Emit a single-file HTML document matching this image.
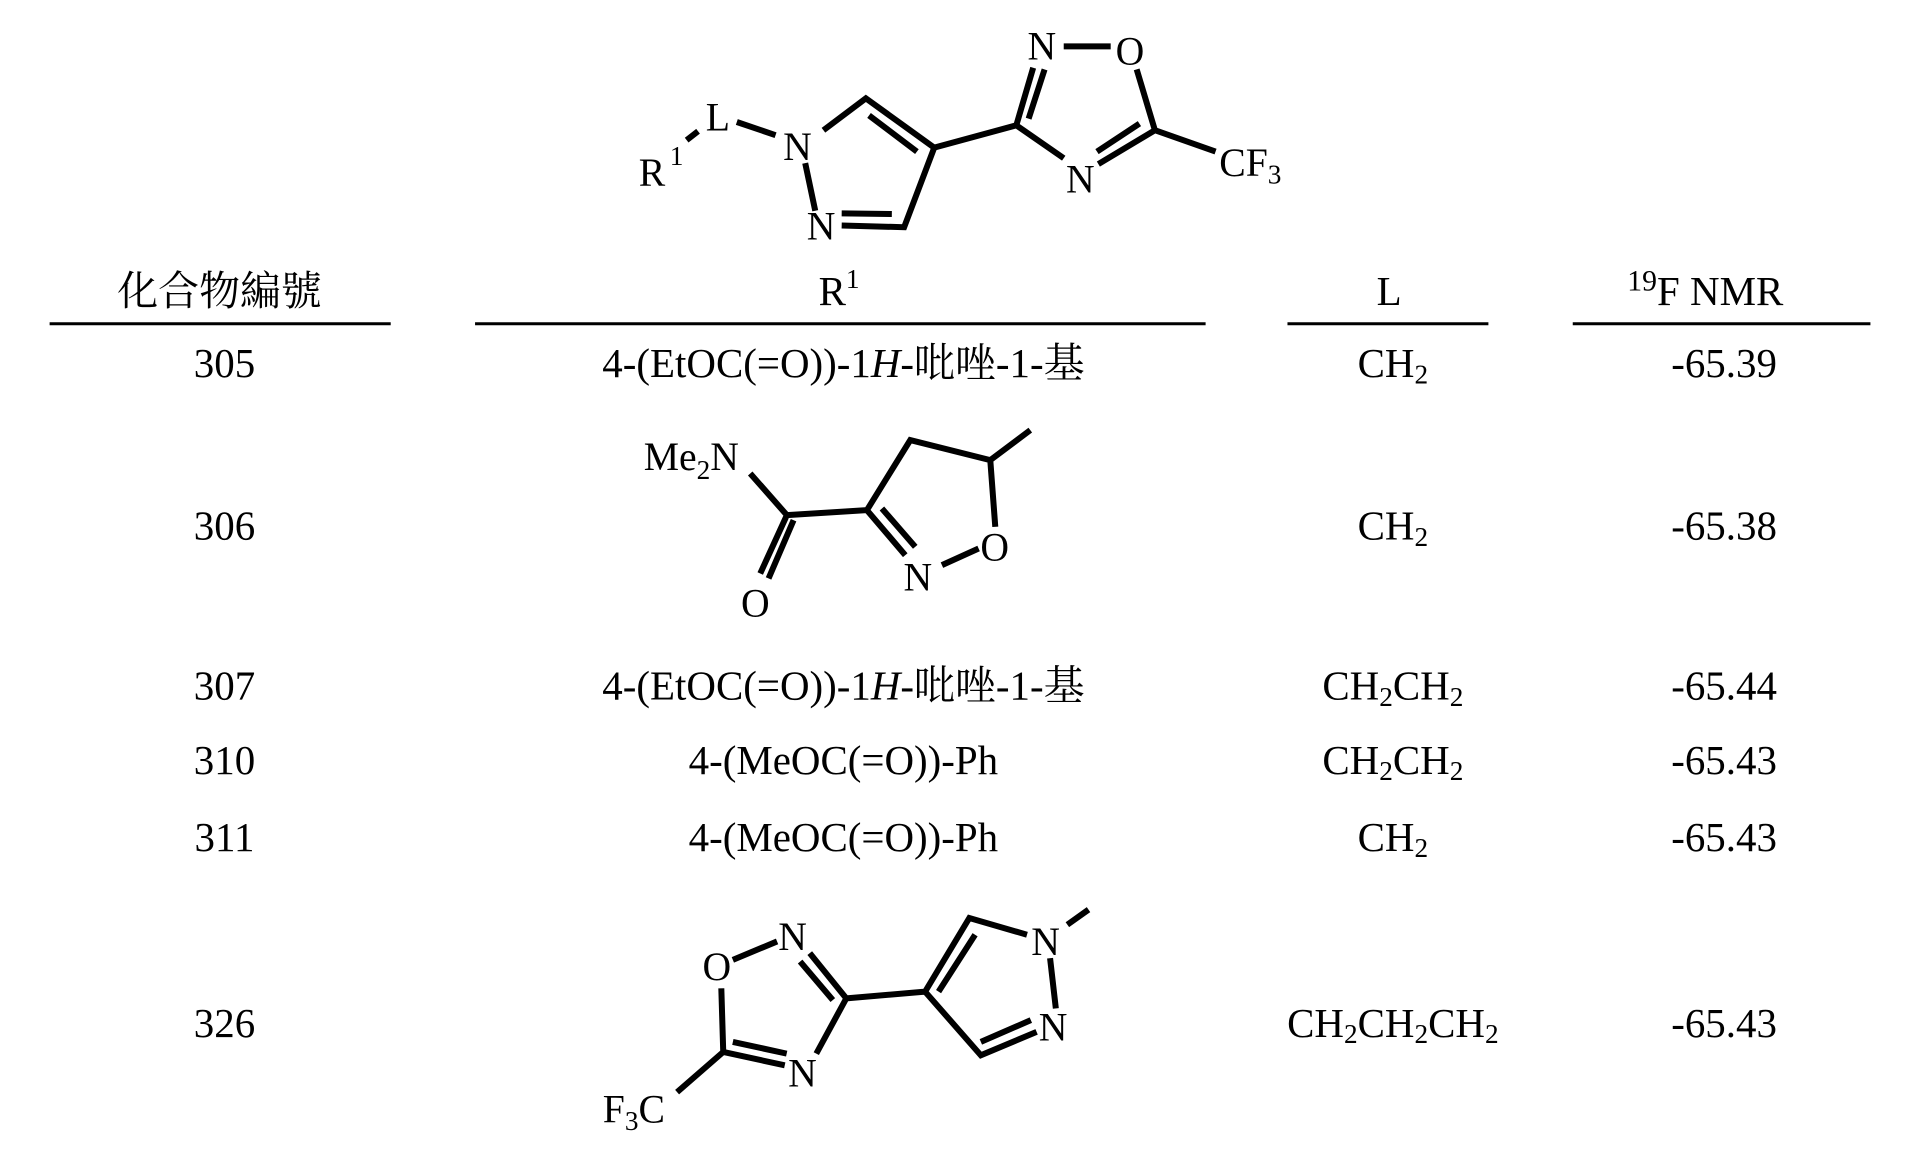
<!DOCTYPE html>
<html><head><meta charset="utf-8"><style>
html,body{margin:0;padding:0;background:#fff;}
svg{display:block;}
text{font-family:"Liberation Serif","Noto Serif CJK SC","Noto Sans CJK TC",serif;fill:#000;}
.t{font-size:33px;}
.a{font-size:32px;}
</style></head><body>
<svg width="1925" height="1161" viewBox="0 0 1552 936" xmlns="http://www.w3.org/2000/svg">
<g stroke="#000" fill="none">
<g transform="matrix(0.3676 0 0 0.265 485.6 5.6)">
<path vector-effect="non-scaling-stroke" stroke-width="6" d="M185 405L210 378M295 350L380 390M485 375L578 278L728 428M585 330L690 440M728 428L662 670L525 665M635 630L525 628M467 620L445 475M728 428L908 360L945 185M935 340L970 190M1012 120L1115 120M1172 190L1212 375L1088 478M1178 355L1085 440M908 360L1012 460M1212 375L1345 440"/>
</g>
<g transform="matrix(0.2688 0 0 0.2688 483.9 338.7)">
<path vector-effect="non-scaling-stroke" stroke-width="6" d="M450 160L560 285L480 460M580 300L505 475M560 285L800 270L930 60L1170 120L1290 30M1170 120L1185 320M1135 385L1025 435M800 270L915 405M845 265L945 380"/>
</g>
<g transform="matrix(0.31 0 0 0.27 449.8 718.5)">
<path vector-effect="non-scaling-stroke" stroke-width="6" d="M455 205L570 150M655 185L750 320L672 485M630 210L715 325M430 480L590 520M455 450L595 485M425 290L430 480L310 600M750 320L955 300L1070 80L1220 130M990 300L1085 130M1325 100L1380 55M1280 200L1295 350M1245 420L1100 490L955 300M1230 385L1100 450"/>
</g>
</g>
<g class="a">
<text x="515" y="150">R</text><text x="540" y="133" font-size="22">1</text>
<text x="569" y="105">L</text>
<text x="643" y="129" text-anchor="middle">N</text>
<text x="662" y="193" text-anchor="middle">N</text>
<text x="840" y="48" text-anchor="middle">N</text>
<text x="911" y="52" text-anchor="middle">O</text>
<text x="871" y="155" text-anchor="middle">N</text>
<text x="983" y="142">CF<tspan font-size="22" dy="6">3</tspan></text>
</g>
<g class="a">
<text x="519" y="379">Me<tspan font-size="22" dy="7">2</tspan><tspan dy="-7">N</tspan></text>
<text x="609" y="497" text-anchor="middle">O</text>
<text x="802" y="452" text-anchor="middle">O</text>
<text x="740" y="476" text-anchor="middle">N</text>
</g>
<g class="a">
<text x="639" y="766" text-anchor="middle">N</text>
<text x="578" y="790" text-anchor="middle">O</text>
<text x="647" y="876" text-anchor="middle">N</text>
<text x="486" y="905">F<tspan font-size="22" dy="6">3</tspan><tspan dy="-6">C</tspan></text>
<text x="843" y="770" text-anchor="middle">N</text>
<text x="849" y="839" text-anchor="middle">N</text>
</g>
<g class="t">
<text x="177" y="246" text-anchor="middle">化合物編號</text>
<text x="660" y="246">R<tspan font-size="22" dy="-14">1</tspan></text>
<text x="1120" y="246" text-anchor="middle">L</text>
<text x="1312" y="246"><tspan font-size="24" dy="-12">19</tspan><tspan dy="12">F NMR</tspan></text>
</g>
<g stroke="#000" stroke-width="2.5">
<line x1="40" y1="261" x2="315" y2="261"/>
<line x1="383" y1="261" x2="972" y2="261"/>
<line x1="1038" y1="261" x2="1200" y2="261"/>
<line x1="1268" y1="261" x2="1508" y2="261"/>
</g>
<g class="t" text-anchor="middle">
<text x="181" y="304">305</text>
<text x="680" y="304">4-(EtOC(=O))-1<tspan font-style="italic">H</tspan>-吡唑-1-基</text>
<text x="1123" y="304">CH<tspan font-size="22" dy="5">2</tspan></text>
<text x="1390" y="304">-65.39</text>

<text x="181" y="435">306</text>
<text x="1123" y="435">CH<tspan font-size="22" dy="5">2</tspan></text>
<text x="1390" y="435">-65.38</text>

<text x="181" y="564">307</text>
<text x="680" y="564">4-(EtOC(=O))-1<tspan font-style="italic">H</tspan>-吡唑-1-基</text>
<text x="1123" y="564">CH<tspan font-size="22" dy="5">2</tspan><tspan dy="-5">CH</tspan><tspan font-size="22" dy="5">2</tspan></text>
<text x="1390" y="564">-65.44</text>

<text x="181" y="624">310</text>
<text x="680" y="624">4-(MeOC(=O))-Ph</text>
<text x="1123" y="624">CH<tspan font-size="22" dy="5">2</tspan><tspan dy="-5">CH</tspan><tspan font-size="22" dy="5">2</tspan></text>
<text x="1390" y="624">-65.43</text>

<text x="181" y="686">311</text>
<text x="680" y="686">4-(MeOC(=O))-Ph</text>
<text x="1123" y="686">CH<tspan font-size="22" dy="5">2</tspan></text>
<text x="1390" y="686">-65.43</text>

<text x="181" y="836">326</text>
<text x="1123" y="836">CH<tspan font-size="22" dy="5">2</tspan><tspan dy="-5">CH</tspan><tspan font-size="22" dy="5">2</tspan><tspan dy="-5">CH</tspan><tspan font-size="22" dy="5">2</tspan></text>
<text x="1390" y="836">-65.43</text>
</g>
</svg>
</body></html>
